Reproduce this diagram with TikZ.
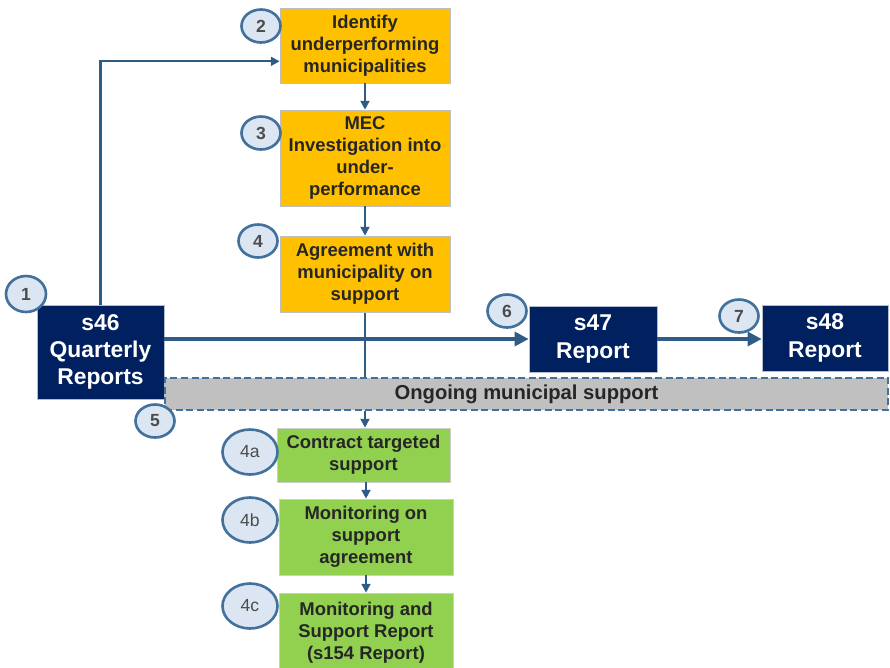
\documentclass[tikz,border=0pt]{standalone}
\usepackage{fontspec}
\setmainfont{Liberation Sans}
\usepackage{tikz}
\usetikzlibrary{arrows.meta, shapes.geometric, positioning, calc, backgrounds}
\definecolor{navybox}{HTML}{002060}
\definecolor{ambbox}{HTML}{FFC000}
\definecolor{grnbox}{HTML}{92D050}
\definecolor{greybar}{HTML}{C0C0C0}
\definecolor{flowblue}{HTML}{2F5C87}
\definecolor{ringblue}{HTML}{41719C}
\definecolor{ringfill}{HTML}{DCE6F2}

\tikzset{
  navynode/.style={fill=navybox, draw=white!70!navybox, text=white,
    font=\fontsize{13}{15.5}\selectfont\bfseries, align=center},
  ambnode/.style={fill=ambbox, draw=black!25, text=black!85,
    font=\fontsize{10.5}{12.5}\selectfont\bfseries, align=center,
    minimum width=3.4cm, inner sep=1pt},
  grnnode/.style={fill=grnbox, draw=black!20, text=black!85,
    font=\fontsize{10.5}{12.5}\selectfont\bfseries, align=center,
    inner sep=1pt},
  stepnum/.style={ellipse, fill=ringfill, draw=ringblue, line width=1.5pt,
    text=black!70, font=\fontsize{10}{12}\selectfont\bfseries, inner sep=0pt,
    minimum width=0.78cm, minimum height=0.66cm},
  substepnum/.style={stepnum, font=\fontsize{10}{12}\selectfont,
    minimum width=1.1cm, minimum height=0.9cm},
  flow/.style={draw=flowblue, line width=1.3pt,
    -{Triangle[length=5pt, width=5pt]}},
  bigflow/.style={flow, line width=1.8pt, -{Triangle[length=8pt, width=8pt]}}
}

\begin{document}
\begin{tikzpicture}[x=0.02cm, y=-0.02cm]
  \useasboundingbox (0,0) rectangle (890,667);

  %% Main boxes
  \node[navynode, minimum width=2.54cm, minimum height=1.88cm] (s46) at (100.5,352)
    {s46\\Quarterly\\Reports};
  \node[ambnode, minimum height=1.5cm]  (ident) at (365,45.5)
    {Identify\\underperforming\\municipalities};
  \node[ambnode, minimum height=1.92cm] (mec)   at (365,158)
    {MEC\\Investigation into\\under-\\performance};
  \node[ambnode, minimum height=1.52cm] (agree) at (365,274)
    {Agreement with\\municipality on\\support};
  \node[navynode, minimum width=2.56cm, minimum height=1.32cm] (s47) at (593,339)
    {s47\\Report};
  \node[navynode, minimum width=2.52cm, minimum height=1.32cm] (s48) at (825,338)
    {s48\\Report};

  %% Support bar
  \node[fill=greybar, draw=ringblue, dash pattern=on 4pt off 2pt, line width=1.3pt,
        minimum width=14.46cm, minimum height=0.64cm, text=black!85,
        font=\fontsize{11.5}{13}\selectfont\bfseries] (ongoing) at (526.5,394)
    {Ongoing municipal support};

  %% Support sub-steps
  \node[grnnode, minimum width=3.46cm, minimum height=1.08cm] (sup4a) at (363.5,455)
    {Contract targeted\\support};
  \node[grnnode, minimum width=3.48cm, minimum height=1.52cm] (sup4b) at (366,537)
    {Monitoring on\\support\\agreement};
  \node[grnnode, minimum width=3.48cm, minimum height=1.58cm] (sup4c) at (366,632.5)
    {Monitoring and\\Support Report\\(s154 Report)};

  %% Connectors
  \begin{scope}[on background layer]
    \draw[draw=flowblue, line width=1.3pt] (agree.south) -- (agree.south |- ongoing.north);
  \end{scope}
  \draw[flow] (s46.north) |- ([yshift=-9pt]ident.west);
  \draw[flow] (ident) -- (mec);
  \draw[flow] (mec) -- (agree);
  \draw[flow] (agree.south |- ongoing.south) -- (agree.south |- sup4a.north);
  \draw[flow] (sup4a.south -| sup4b.north) -- (sup4b.north);
  \draw[flow] (sup4b) -- (sup4c);
  \draw[bigflow] (s46.east |- s47.west) -- (s47.west);
  \draw[bigflow] (s47.east) -- (s48.west |- s47.east);

  %% Step numbers
  \node[stepnum, minimum width=0.8cm, minimum height=0.72cm] (n1) at (26,294) {1};
  \foreach \nm/\px/\py/\lbl in {n2/261/26/2, n3/261/133/3, n4/258/241/4,
                                n5/155/421/5, n6/507/311/6, n7/739/316/7}
    \node[stepnum] (\nm) at (\px,\py) {\lbl};
  \foreach \nm/\py/\lbl in {n4a/452/4a, n4b/520/4b, n4c/606/4c}
    \node[substepnum] (\nm) at (250,\py) {\lbl};
\end{tikzpicture}
\end{document}
